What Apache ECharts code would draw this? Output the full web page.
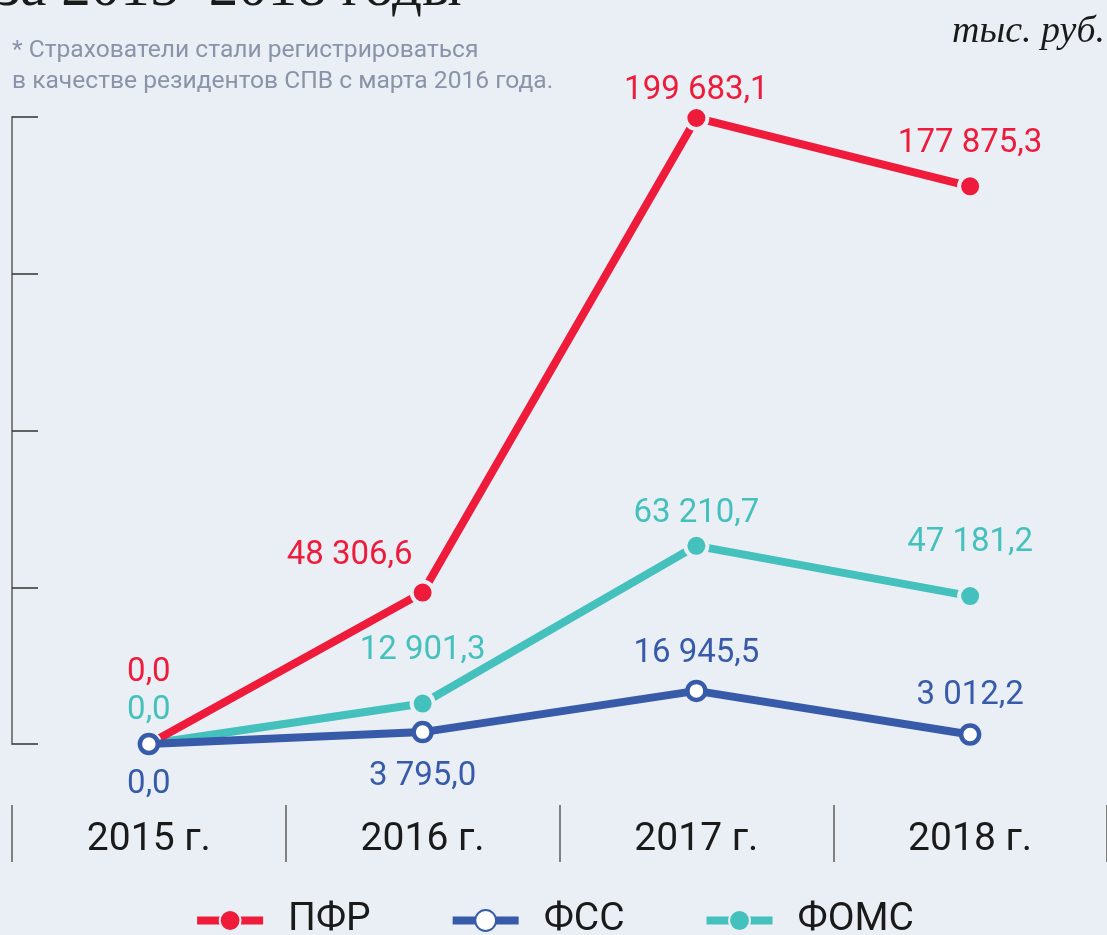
<!DOCTYPE html>
<html>
<head>
<meta charset="utf-8">
<script src="https://cdn.jsdelivr.net/npm/echarts@6/dist/echarts.min.js"></script>
<style>
  html, body { margin: 0; padding: 0; background: #eaeff6; }
  #chart { width: 1107px; height: 935px; }
</style>
</head>
<body>
<div id="chart"></div>
<script>
// данные графика, тыс. руб.
const years = ["2015 г.", "2016 г.", "2017 г.", "2018 г."];
const pfr = [0.0, 48306.6, 199683.1, 177875.3];
const fss = [0.0, 3795.0, 16945.5, 3012.2];
const foms = [0.0, 12901.3, 63210.7, 47181.2];

const bg = "#eaeff6";
const colors = { pfr: "#ee1b3b", fss: "#375ba9", foms: "#44c1bc" };
const font = "Roboto";

// подписи точек: смещения относительно точки
const pfrOffsets = [[0, -37], [-73, -2], [0, 7], [0, -8]];
const fssOffsets = [[0, 73], [0, 77], [0, -4], [0, -6]];
const fomsOffsets = [[0, 1], [0, -18], [0, 2], [0, -19]];

function fmt(v) {
  const parts = v.toFixed(1).split(".");
  return parts[0].replace(/\B(?=(\d{3})+(?!\d))/g, " ") + "," + parts[1];
}

function points(values, offsets) {
  return values.map((v, i) => ({
    value: v,
    label: { offset: offsets[i] }
  }));
}

function makeSeries(name, values, color, offsets, hollow) {
  return {
    name: name,
    type: "line",
    xAxisIndex: 0,
    yAxisIndex: 0,
    data: points(values, offsets),
    symbol: "circle",
    symbolSize: hollow ? 18 : 22,
    lineStyle: { color: color, width: 8 },
    itemStyle: hollow
      ? { color: "#ffffff", borderColor: color, borderWidth: 4.5 }
      : { color: color, borderColor: bg, borderWidth: 4 },
    label: {
      show: true,
      position: "top",
      color: color,
      fontSize: 33,
      fontFamily: font,
      formatter: p => fmt(p.value)
    },
    z: hollow ? 3 : 2
  };
}

const chart = echarts.init(document.getElementById("chart"));

chart.setOption({
  backgroundColor: bg,
  animation: false,
  textStyle: { fontFamily: font },
  graphic: [
    {
      type: "text", left: -3, top: -40,
      style: { text: "за 2015–2018 годы", font: "59px 'Liberation Serif'", fill: "#1a1a1a" }
    },
    {
      type: "text", right: 2, top: 13,
      style: { text: "тыс. руб.", font: "italic 38px 'Liberation Serif'", fill: "#1a1a1a" }
    },
    {
      type: "text", left: 12, top: 35,
      style: {
        text: "* Страхователи стали регистрироваться\nв качестве резидентов СПВ с марта 2016 года.",
        font: "24.6px Roboto", fill: "#8a93a7", lineHeight: 31
      }
    }
  ],
  grid: [
    { left: 12, right: -1, top: 117, bottom: 191 },
    // полоса с разделителями годов
    { left: 12, right: -1, top: 805, height: 57 }
  ],
  legend: {
    bottom: -10,
    left: "center",
    itemWidth: 66,
    itemHeight: 26,
    itemGap: 78,
    lineStyle: { width: 8 },
    textStyle: { fontSize: 39, color: "#1a1a1a", fontFamily: font, padding: [0, 0, 0, 20] },
    data: ["ПФР", "ФСС", "ФОМС"]
  },
  xAxis: [
    {
      gridIndex: 0,
      type: "category",
      data: years,
      boundaryGap: true,
      axisLine: { show: false },
      axisTick: { show: false },
      axisLabel: { fontSize: 39, color: "#1a1a1a", margin: 77, fontFamily: font }
    },
    {
      gridIndex: 1,
      type: "category",
      data: years,
      boundaryGap: true,
      position: "bottom",
      axisLine: { show: false },
      axisTick: { show: true, inside: true, length: 57, lineStyle: { color: "#808080", width: 2 } },
      axisLabel: { show: false }
    }
  ],
  yAxis: [
    {
      gridIndex: 0,
      type: "value",
      min: 0,
      max: 200000,
      interval: 50000,
      axisLine: { show: true, lineStyle: { color: "#808080", width: 2 } },
      axisTick: { show: true, inside: true, length: 26, lineStyle: { color: "#333", width: 1.5 } },
      axisLabel: { show: false },
      splitLine: { show: false }
    },
    {
      gridIndex: 1,
      type: "value",
      show: false
    }
  ],
  series: [
    makeSeries("ФОМС", foms, colors.foms, fomsOffsets, false),
    makeSeries("ФСС", fss, colors.fss, fssOffsets, true),
    makeSeries("ПФР", pfr, colors.pfr, pfrOffsets, false)
  ]
});
</script>
</body>
</html>
